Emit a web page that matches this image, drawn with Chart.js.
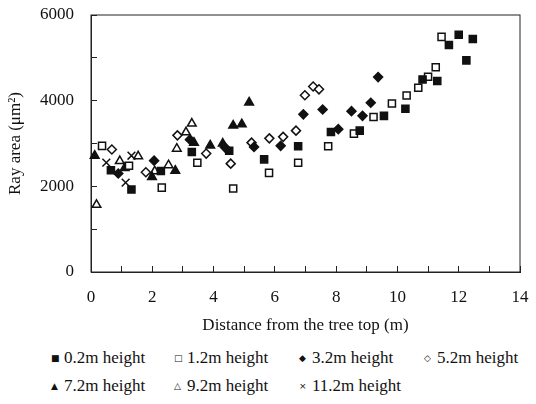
<!DOCTYPE html>
<html>
<head>
<meta charset="utf-8">
<script src="https://cdn.jsdelivr.net/npm/chart.js@4.4.0/dist/chart.umd.min.js"></script>
<style>
body{margin:0;background:#fff;}
#wrap{position:relative;width:536px;height:404px;font-family:'Liberation Serif','Times New Roman',serif;color:#111;}
#legend .item{position:absolute;white-space:nowrap;font-size:17px;line-height:20px;}
#legend .mk{display:inline-block;width:13px;font-family:'DejaVu Sans',sans-serif;font-size:9px;vertical-align:2px;}
</style>
</head>
<body>
<div id="wrap">
	<canvas id="rayChart" width="536" height="340"></canvas>
	<div id="legend"></div>
</div>
<script>
var xTitle='Distance from the tree top (m)';
var yTitle='Ray area (\u03bcm\u00b2)';
var seriesNames=['0.2m height','1.2m height','3.2m height','5.2m height','7.2m height','9.2m height','11.2m height'];

//0.2m
var dist02=[0.65,1.32,2.28,3.29,4.51,5.65,6.76,7.83,8.77,9.56,10.26,10.82,11.3,11.68,12.0,12.25,12.46];
var area02=[2375,1925,2360,2800,2830,2630,2935,3270,3300,3645,3810,4495,4460,5300,5540,4940,5440];
//1.2m
var dist12=[0.36,1.24,2.31,3.47,4.64,5.81,6.76,7.74,8.58,9.22,9.82,10.3,10.68,11.0,11.25,11.44];
var area12=[2945,2480,1970,2550,1950,2315,2550,2935,3230,3620,3935,4120,4300,4560,4780,5490];
//3.2m
var dist32=[0.89,2.06,3.23,4.37,5.32,6.19,6.93,7.56,8.07,8.5,8.86,9.13,9.37];
var area32=[2300,2600,3090,2910,2920,2945,3680,3795,3335,3755,3645,3950,4550];
//5.2m
var dist52=[0.68,1.79,2.82,3.76,4.56,5.24,5.82,6.27,6.69,6.98,7.25,7.44];
var area52=[2860,2330,3190,2765,2530,3020,3120,3155,3300,4125,4330,4265];
//7.2m
var dist72=[0.12,1.1,1.99,2.75,3.36,3.89,4.3,4.64,4.92,5.16];
var area72=[2715,2430,2220,2365,3020,2955,3000,3420,3450,3960];
//9.2m
var dist92=[0.18,0.94,1.54,2.08,2.53,2.8,3.1,3.29];
var area92=[1570,2590,2700,2350,2495,2880,3260,3465];
//11.2m
var dist112=[0.5,1.13,1.32];
var area112=[2555,2085,2715];

var xTicks=[0,2,4,6,8,10,12,14];
var yTicks=[0,2000,4000,6000];

var ink='#111';
var axisFont={family:"'Liberation Serif','Times New Roman',serif",size:17};

function fnPoints(xs,ys){
	var pts=[];
	for(var i=0;i<xs.length;i++){
		pts.push({x:xs[i],y:ys[i]});
	}
	return pts;
}

var styles=[
	{pointStyle:'rect',radius:5,fill:ink},
	{pointStyle:'rect',radius:5,fill:'#fff'},
	{pointStyle:'rectRot',radius:4.5,fill:ink},
	{pointStyle:'rectRot',radius:4.5,fill:'#fff'},
	{pointStyle:'triangle',radius:5,fill:ink},
	{pointStyle:'triangle',radius:5,fill:'#fff'},
	{pointStyle:'crossRot',radius:5.5,fill:ink}
];
var allX=[dist02,dist12,dist32,dist52,dist72,dist92,dist112];
var allY=[area02,area12,area32,area52,area72,area92,area112];

var datasets=[];
for(var i=0;i<seriesNames.length;i++){
	datasets.push({
		label:seriesNames[i],
		data:fnPoints(allX[i],allY[i]),
		pointStyle:styles[i].pointStyle,
		pointRadius:styles[i].radius,
		pointHoverRadius:styles[i].radius,
		backgroundColor:styles[i].fill,
		borderColor:ink,
		borderWidth:1.5,
		clip:false
	});
}

//plot frame
var framePlugin={
	id:'frame',
	beforeDatasetsDraw:function(chart){
		var a=chart.chartArea,c=chart.ctx;
		c.save();
		c.strokeStyle='#222';
		c.lineWidth=1;
		c.strokeRect(a.left,a.top,a.right-a.left,a.bottom-a.top);
		c.restore();
	}
};

var ctx=document.getElementById('rayChart').getContext('2d');
var rayChart=new Chart(ctx,{
	type:'scatter',
	data:{datasets:datasets},
	plugins:[framePlugin],
	options:{
		responsive:false,
		animation:false,
		layout:{padding:{left:0,right:16,top:15,bottom:0}},
		plugins:{legend:{display:false},tooltip:{enabled:false}},
		scales:{
			x:{
				type:'linear',min:0,max:14,
				//fixed height, no extra side padding from the big label gap
				afterFit:function(s){s.height=68;s.paddingLeft=0;s.paddingRight=0;},
				ticks:{stepSize:1,autoSkip:false,maxRotation:0,color:ink,font:axisFont,padding:21,
					callback:function(v){return xTicks.indexOf(v)>=0 ? v : '';}},
				grid:{drawOnChartArea:false,tickLength:-6,color:'#222'},
				border:{color:'#222'},
				title:{display:true,text:xTitle,color:ink,font:axisFont,padding:{top:0,bottom:4}}
			},
			y:{
				type:'linear',min:0,max:6000,
				afterFit:function(s){s.width=91;s.paddingTop=0;s.paddingBottom=0;},
				ticks:{stepSize:1000,autoSkip:false,color:ink,font:axisFont,padding:23,
					callback:function(v){return yTicks.indexOf(v)>=0 ? v : '';}},
				grid:{drawOnChartArea:false,tickLength:-6,color:'#222'},
				border:{color:'#222'},
				title:{display:true,text:yTitle,color:ink,font:axisFont,padding:{top:5,bottom:0}}
			}
		}
	}
});

//legend, 4 columns
var glyphs=['\u25A0','\u25A1','\u25C6','\u25C7','\u25B2','\u25B3','\u00D7'];
var colX=[51,174,299,424];
var rowY=[348,376];
var legend=document.getElementById('legend');
for(var k=0;k<seriesNames.length;k++){
	var div=document.createElement('div');
	div.className='item';
	div.style.left=colX[k%4]+'px';
	div.style.top=rowY[Math.floor(k/4)]+'px';
	div.innerHTML='<span class="mk">'+glyphs[k]+'</span>'+seriesNames[k];
	legend.appendChild(div);
}
</script>
</body>
</html>
